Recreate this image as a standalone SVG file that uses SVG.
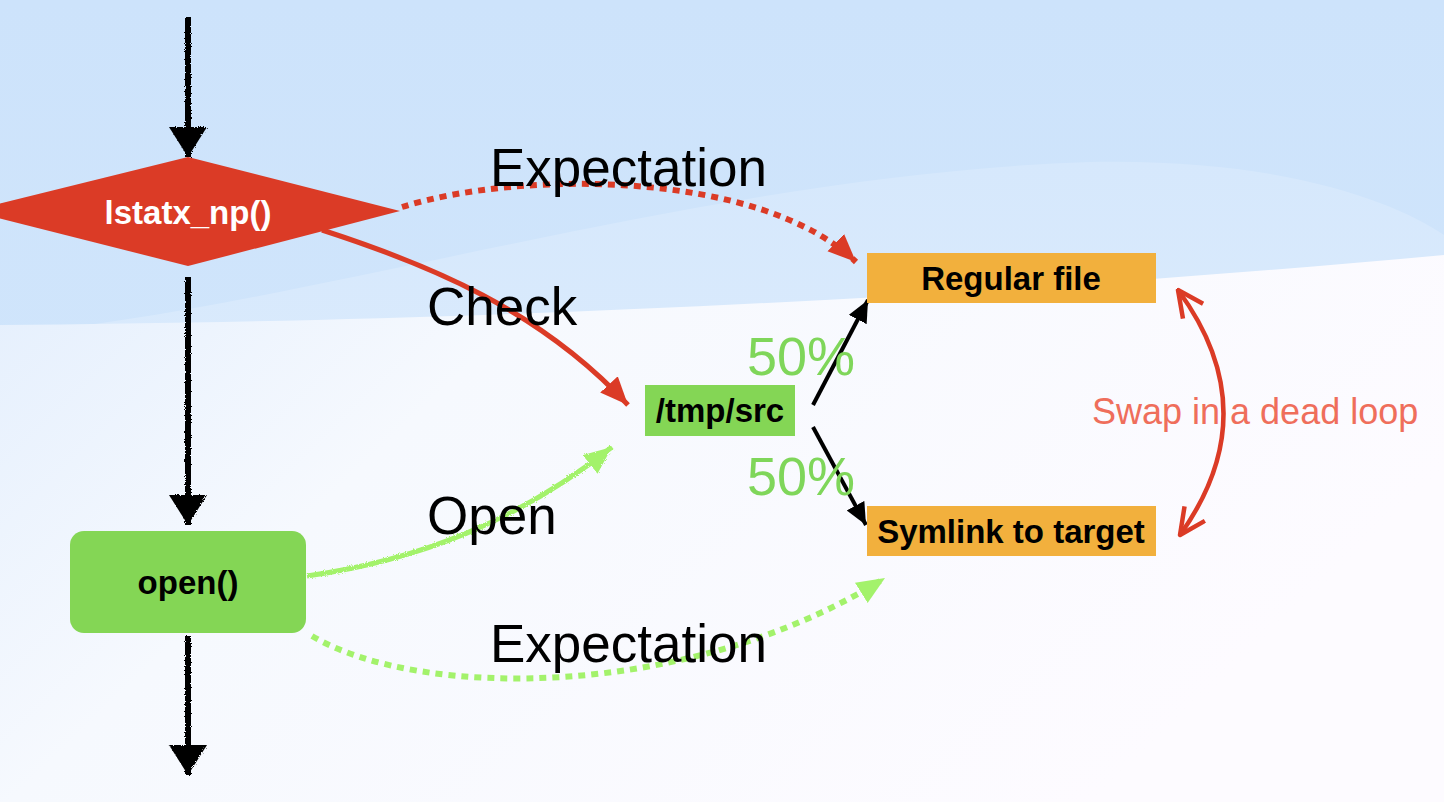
<svg xmlns="http://www.w3.org/2000/svg" width="1444" height="802" viewBox="0 0 1444 802">
<style>
.lbl{font-family:"Liberation Sans",Arial,sans-serif;font-size:53px;fill:#000}
.node{font-family:"Liberation Sans",Arial,sans-serif;font-size:33px;font-weight:bold;text-anchor:middle}
.pct{font-family:"Liberation Sans",Arial,sans-serif;font-size:54px;fill:#7fd65a}
.sketch{stroke:#000;stroke-width:6;fill:none;filter:url(#rough)}
</style>
<defs>
<linearGradient id="sky" x1="0" y1="0" x2="0" y2="1">
<stop offset="0" stop-color="#cde3fb"/>
<stop offset="1" stop-color="#d3e7fc"/>
</linearGradient>
<linearGradient id="low" x1="0" y1="0" x2="1" y2="0.4">
<stop offset="0" stop-color="#e4effd"/>
<stop offset="0.35" stop-color="#f6f9fe"/>
<stop offset="1" stop-color="#fdfbff"/>
</linearGradient>
<linearGradient id="hill" x1="0" y1="0" x2="0" y2="1">
<stop offset="0" stop-color="#d6e8fc"/>
<stop offset="1" stop-color="#e0eefd"/>
</linearGradient>
<filter id="rough" filterUnits="userSpaceOnUse" x="0" y="0" width="1444" height="802">
<feTurbulence type="fractalNoise" baseFrequency="0.9" numOctaves="2" seed="3"/>
<feDisplacementMap in="SourceGraphic" scale="3"/>
</filter>
<marker id="blk" markerUnits="userSpaceOnUse" markerWidth="40" markerHeight="40" refX="30" refY="19" orient="auto">
<path d="M0,0 L30,19 L0,38 Z" fill="#000"/>
</marker>
<marker id="blks" markerUnits="userSpaceOnUse" markerWidth="26" markerHeight="26" refX="22" refY="10" orient="auto">
<path d="M0,0 L22,10 L0,20 Z" fill="#000"/>
</marker>
<marker id="red" markerUnits="userSpaceOnUse" markerWidth="32" markerHeight="28" refX="28" refY="12" orient="auto">
<path d="M0,0 L28,12 L0,24 Z" fill="#db3b26"/>
</marker>
<marker id="grn" markerUnits="userSpaceOnUse" markerWidth="32" markerHeight="28" refX="28" refY="12" orient="auto">
<path d="M0,0 L28,12 L0,24 Z" fill="#a3f26b"/>
</marker>
<marker id="swapE" markerUnits="userSpaceOnUse" markerWidth="36" markerHeight="36" refX="28" refY="14" orient="auto">
<path d="M2,2 L28,14 L2,27" fill="none" stroke="#db3b26" stroke-width="4.5" stroke-linejoin="round"/>
</marker>
<marker id="swapS" markerUnits="userSpaceOnUse" markerWidth="36" markerHeight="36" refX="2" refY="14" orient="auto">
<path d="M28,2 L2,14 L28,27" fill="none" stroke="#db3b26" stroke-width="4.5" stroke-linejoin="round"/>
</marker>
</defs>

<g id="background">
<rect x="0" y="0" width="1444" height="802" fill="url(#sky)"/>
<path d="M0,335 C 300,310 700,175 1090,162 C 1290,158 1400,205 1444,235 L1444,802 L0,802 Z" fill="url(#hill)"/>
<path d="M0,325 C 400,322 900,305 1444,255 L1444,802 L0,802 Z" fill="url(#low)"/>
</g>

<g id="connectors">
<line class="sketch" x1="188" y1="17" x2="188" y2="157" marker-end="url(#blk)"/>
<line class="sketch" x1="188" y1="277" x2="188" y2="525" marker-end="url(#blk)"/>
<line class="sketch" x1="188" y1="636" x2="188" y2="775" marker-end="url(#blk)"/>
<path d="M402,207 C 520,170 760,170 856,262" fill="none" stroke="#db3b26" stroke-width="6" stroke-dasharray="7 6" marker-end="url(#red)"/>
<path d="M322,230 C 430,265 540,310 628,405" fill="none" stroke="#db3b26" stroke-width="5" marker-end="url(#red)"/>
<path d="M307,576 C 420,560 520,520 612,447" fill="none" stroke="#a3f26b" stroke-width="5" filter="url(#rough)" marker-end="url(#grn)"/>
<path d="M312,636 C 420,700 690,700 885,578" fill="none" stroke="#a3f26b" stroke-width="6" stroke-dasharray="7 6" marker-end="url(#grn)"/>
<line x1="813" y1="405" x2="868" y2="300" stroke="#000" stroke-width="4" marker-end="url(#blks)"/>
<line x1="813" y1="427" x2="866" y2="525" stroke="#000" stroke-width="4" marker-end="url(#blks)"/>
<path d="M1178,290 Q 1268,412 1180,535" fill="none" stroke="#db3b26" stroke-width="4.5" marker-start="url(#swapS)" marker-end="url(#swapE)"/>
</g>

<g id="labels">
<text class="lbl" x="490" y="186">Expectation</text>
<text class="lbl" x="427" y="325">Check</text>
<text class="lbl" x="427" y="534">Open</text>
<text class="lbl" x="490" y="662">Expectation</text>
<text class="pct" x="747" y="375">50%</text>
<text class="pct" x="747" y="495">50%</text>
<text x="1092" y="424" font-family="Liberation Sans, Arial, sans-serif" font-size="36" fill="#ef6e5b">Swap in a dead loop</text>
</g>

<g id="lstatx">
<polygon points="188,157 400,211 188,266 -30,211" fill="#db3b26"/>
<text class="node" x="188" y="224" fill="#fff">lstatx_np()</text>
</g>

<g id="open">
<rect x="70" y="531" width="236" height="102" rx="14" fill="#84d655"/>
<text class="node" x="188" y="594" fill="#000">open()</text>
</g>

<g id="tmpsrc">
<rect x="645" y="385" width="150" height="51" fill="#84d655"/>
<text class="node" x="720" y="422" fill="#000">/tmp/src</text>
</g>

<g id="regular">
<rect x="867" y="253" width="289" height="50" fill="#f2b03d"/>
<text class="node" x="1011" y="290" fill="#000">Regular file</text>
</g>

<g id="symlink">
<rect x="867" y="506" width="289" height="50" fill="#f2b03d"/>
<text class="node" x="1011" y="543" fill="#000">Symlink to target</text>
</g>
</svg>
